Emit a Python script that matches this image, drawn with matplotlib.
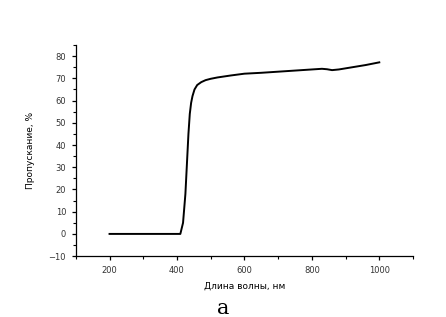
import matplotlib
matplotlib.use("Agg")
import matplotlib.pyplot as plt
from matplotlib.ticker import MultipleLocator

wavelength = [200, 300, 400, 410, 418, 425, 430, 434, 438, 442, 446, 452, 460, 472, 485, 500, 520, 560, 600, 650, 700, 750, 800, 830, 845, 860, 880, 920, 960, 1000]
transmission = [0, 0, 0, 0, 5, 18, 33, 45, 54, 59, 62, 65, 67, 68.3, 69.2, 69.8, 70.4, 71.3, 72.1, 72.5, 73.0, 73.5, 74.0, 74.3, 74.1, 73.7, 74.0, 75.0, 76.0, 77.2]

xticks = [200, 400, 600, 800, 1000]
yticks = [-10, 0, 10, 20, 30, 40, 50, 60, 70, 80]

fig = plt.figure(figsize=(4.46, 3.17), dpi=100)
ax = fig.add_axes([0.170, 0.192, 0.756, 0.666])
ax.plot(wavelength, transmission, color="black", linewidth=1.4)
ax.set_xlim(100, 1100)
ax.set_ylim(-10, 85)
ax.set_xticks(xticks)
ax.set_yticks(yticks)
ax.xaxis.set_minor_locator(MultipleLocator(100))
ax.yaxis.set_minor_locator(MultipleLocator(5))
for s in ["top", "right"]:
    ax.spines[s].set_visible(False)
for s in ["left", "bottom"]:
    ax.spines[s].set_linewidth(0.9)
ax.tick_params(axis="both", which="major", direction="out", length=3, width=0.9, labelsize=6, colors="black", labelcolor="#333333", pad=4)
ax.tick_params(axis="both", which="minor", direction="out", length=2, width=0.8)
ax.set_xlabel("Длина волны, нм", fontsize=6.5, labelpad=5)
ax.set_ylabel("Пропускание, %", fontsize=6.5, labelpad=10)
fig.text(0.5, 0.01, "а", fontsize=15, family="DejaVu Serif", ha="center", va="baseline")
fig.savefig("out.png", dpi=100)
